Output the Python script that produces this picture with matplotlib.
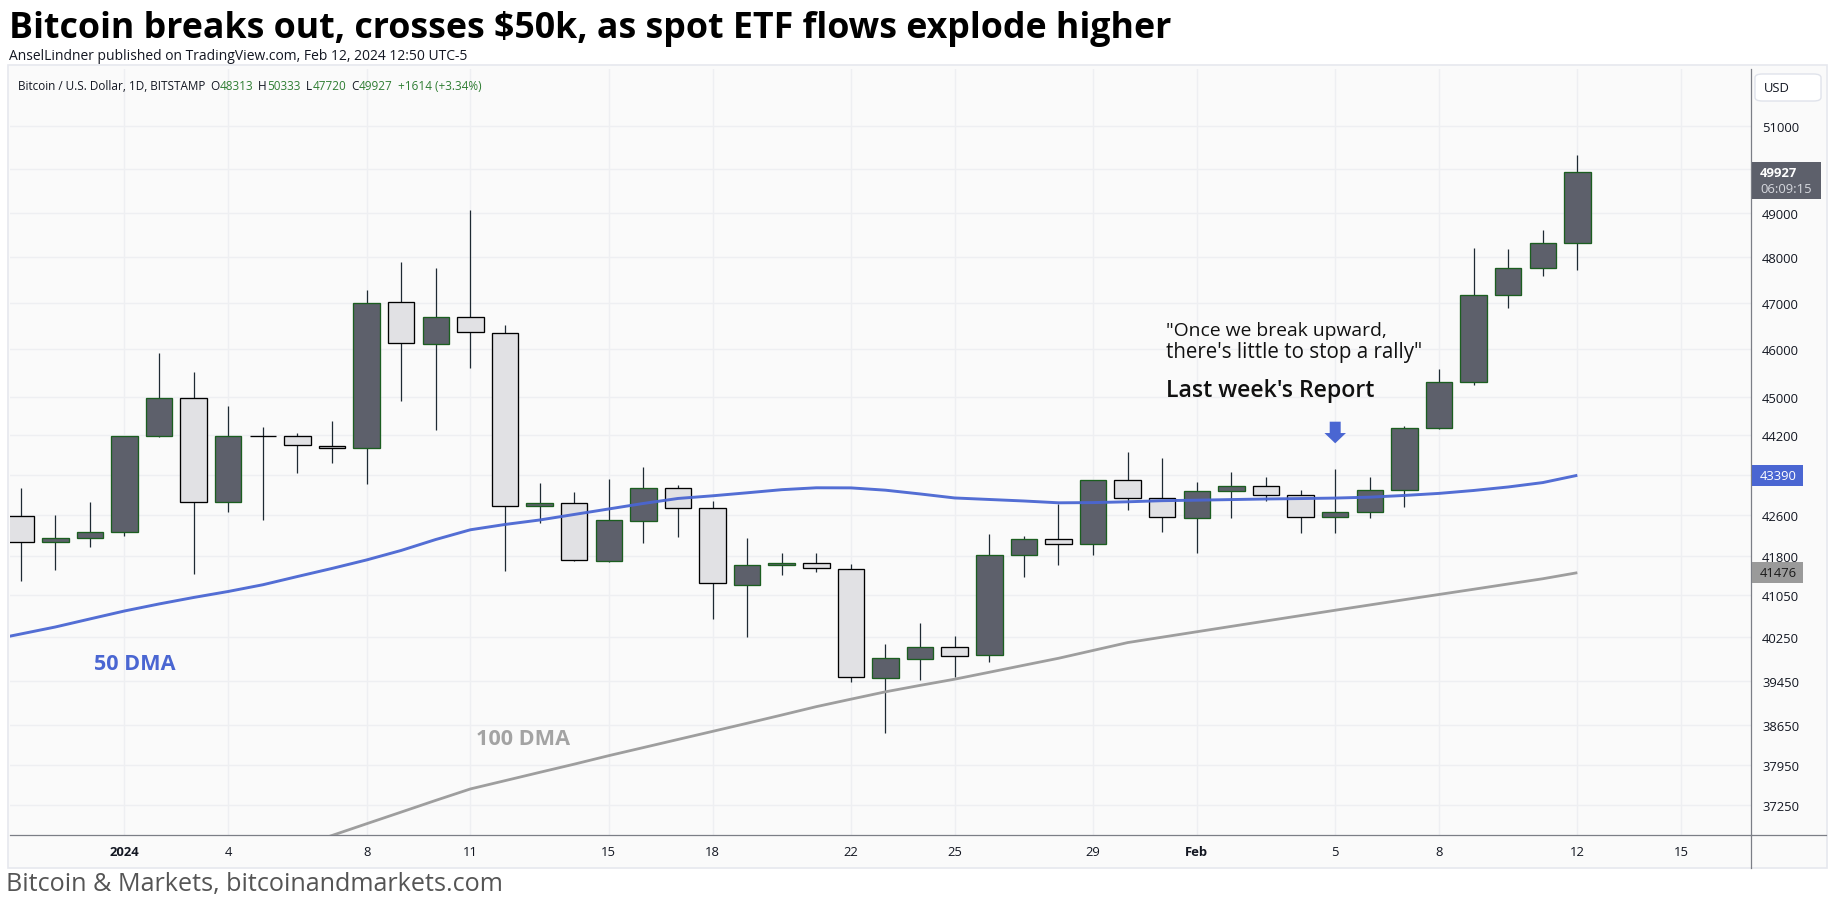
import numpy as np
import pandas as pd
import matplotlib
matplotlib.use('Agg')
import matplotlib.pyplot as plt
from matplotlib.patches import Rectangle, FancyBboxPatch
from matplotlib.lines import Line2D
from matplotlib.transforms import IdentityTransform
from matplotlib.ticker import FixedLocator, NullLocator, NullFormatter

plt.rcParams['font.family'] = ['Open Sans', 'DejaVu Sans']

# ---------------- data ----------------
dates = pd.date_range('2023-12-29', '2024-02-12', freq='D')

opens = [42580, 42065, 42143, 42260, 44182, 44966, 42851, 44182, 44182, 43977,
         43937, 47011, 46104, 46685, 46340, 42772, 42832, 41696, 42490, 43130,
         42732, 41235, 41619, 41658, 41542, 39497, 39846, 40068, 39920, 41812,
         42123, 42026, 43290, 42930, 42535, 43070, 43170, 42990, 42555, 42654,
         43090, 44346, 45301, 47163, 47757, 48313]
highs = [43135, 42600, 42857, 44190, 45919, 45517, 44806, 44372, 44243, 44495,
         47279, 47896, 47763, 49064, 46519, 43236, 43056, 43316, 43558, 43190,
         42877, 42143, 41851, 41858, 41643, 40129, 40522, 40278, 42227, 42186,
         42818, 43300, 43861, 43740, 43256, 43457, 43350, 43097, 43518, 43350,
         44400, 45581, 48208, 48185, 48610, 50333]
lows = [41310, 41534, 41979, 42193, 44170, 41457, 42665, 42507, 43443, 43644,
        43222, 44917, 44317, 45608, 41515, 42448, 41700, 41690, 42057, 42174,
        40602, 40265, 41438, 41496, 39435, 38514, 39471, 39521, 39801, 41400,
        41631, 41812, 42705, 42272, 41863, 42547, 42883, 42252, 42252, 42535,
        42764, 44330, 45244, 46893, 47593, 47720]
closes = [42070, 42143, 42260, 44182, 44966, 42851, 44182, 44180, 43998, 43937,
          46989, 46126, 46685, 46362, 42772, 42832, 41716, 42496, 43130, 42732,
          41274, 41619, 41658, 41561, 39515, 39864, 40068, 39901, 41812, 42123,
          42026, 43290, 42930, 42555, 43070, 43170, 42990, 42555, 42654, 43090,
          44346, 45301, 47163, 47757, 48313, 49927]

# moving averages, one value per day starting the day before the first visible candle
ma_dates = pd.date_range('2023-12-28', '2024-02-12', freq='D')
dma50 = [40185,
         40315, 40446, 40597, 40747, 40880, 41003, 41117, 41245, 41403, 41558,
         41722, 41906, 42119, 42309, 42413, 42501, 42610, 42719, 42828, 42927,
         42980, 43040, 43102, 43140, 43138, 43092, 43017, 42937, 42907, 42877,
         42841, 42845, 42861, 42883, 42893, 42905, 42917, 42925, 42935, 42953,
         42987, 43028, 43086, 43156, 43244, 43390]
dma100 = [np.nan] * 9 + [
         36524, 36723, 36923, 37123, 37325, 37523, 37667, 37812, 37956, 38106,
         38249, 38393, 38537, 38682, 38830, 38981, 39116, 39250, 39367, 39480,
         39607, 39736, 39864, 40009, 40155, 40256, 40357, 40458, 40559, 40660,
         40761, 40861, 40961, 41060, 41159, 41260, 41360, 41476]

price_ticks = [37250, 37950, 38650, 39450, 40250, 41050, 41800, 42600, 43400,
               44200, 45000, 46000, 47000, 48000, 49000, 50000, 51000]
price_tick_labels = ['37250', '37950', '38650', '39450', '40250', '41050', '41800',
                     '42600', '', '44200', '45000', '46000', '47000', '48000',
                     '49000', '', '51000']
time_tick_dates = ['2024-01-01', '2024-01-04', '2024-01-08', '2024-01-11',
                   '2024-01-15', '2024-01-18', '2024-01-22', '2024-01-25',
                   '2024-01-29', '2024-02-01', '2024-02-05', '2024-02-08',
                   '2024-02-12', '2024-02-15']
time_tick_labels = ['2024', '4', '8', '11', '15', '18', '22', '25', '29', 'Feb',
                    '5', '8', '12', '15']
bold_time_labels = ['2024', 'Feb']

title = 'Bitcoin breaks out, crosses $50k, as spot ETF flows explode higher'
subtitle = 'AnselLindner published on TradingView.com, Feb 12, 2024 12:50 UTC-5'
symbol_text = 'Bitcoin / U.S. Dollar, 1D, BITSTAMP'
ohlc_parts = [('O', '48313'), ('H', '50333'), ('L', '47720'), ('C', '49927')]
change_text = '+1614 (+3.34%)'
countdown = '06:09:15'
footer = 'Bitcoin & Markets, bitcoinandmarkets.com'
quote_lines = ['"Once we break upward,', 'there\'s little to stop a rally"']
report_label = "Last week's Report"
arrow_date = '2024-02-05'

# ---------------- styles ----------------
W, H = 1835, 903
BG = '#fafafa'
UP_FILL, UP_EDGE = '#5d606b', '#1b5e20'
DN_FILL, DN_EDGE = '#e1e1e4', '#000000'
WICK = '#1e2a33'
BLUE = '#4a66d2'
GREY = '#9e9e9e'
AXLINE = '#7b7e86'
TXT = '#131722'
GREEN = '#2e7d32'

fig = plt.figure(figsize=(W / 100, H / 100), dpi=100)
fig.patch.set_facecolor('white')


def fx(px):
    return px / W


def fy(py):
    return 1 - py / H


# widget panel
fig.add_artist(Rectangle((fx(8), fy(869)), fx(1827) - fx(8), fy(66) - fy(869),
                         transform=fig.transFigure, facecolor=BG,
                         edgecolor='#e6e8ee', lw=1.2, zorder=0))

ax = fig.add_axes([fx(10), fy(836), fx(1751) - fx(10), fy(70) - fy(836)])
ax.set_facecolor(BG)
ax.set_yscale('log')
ax.set_ylim(36731, 52375)
ax.set_xlim(-0.309, 50.02)

x = np.asarray((dates - dates[0]).days, dtype=float)
xm = np.asarray((ma_dates - dates[0]).days, dtype=float)
o = np.array(opens, float)
h = np.array(highs, float)
l = np.array(lows, float)
c = np.array(closes, float)
up = c > o

# grid / ticks
ax.yaxis.set_major_locator(FixedLocator(price_ticks))
ax.yaxis.set_minor_locator(NullLocator())
ax.yaxis.set_minor_formatter(NullFormatter())
ax.set_yticks(price_ticks)
ax.set_yticklabels(price_tick_labels)
ax.yaxis.tick_right()
tx = np.asarray((pd.to_datetime(time_tick_dates) - dates[0]).days, dtype=float)
ax.set_xticks(tx)
ax.set_xticklabels(time_tick_labels)
for lab in ax.get_xticklabels():
    if lab.get_text() in bold_time_labels:
        lab.set_fontweight('bold')
ax.tick_params(axis='y', length=0, pad=8, labelsize=9.4, labelcolor=TXT)
ax.tick_params(axis='x', length=0, pad=7.5, labelsize=9.4, labelcolor=TXT)
ax.grid(True, color='#eeeff2', lw=1.0, zorder=0)
ax.set_axisbelow(True)
for s in ['top', 'left']:
    ax.spines[s].set_visible(False)
for s in ['right', 'bottom']:
    ax.spines[s].set_color(AXLINE)
    ax.spines[s].set_linewidth(0.9)

# candles
ax.vlines(x, l, h, color=WICK, lw=0.9, zorder=2)
bottom = np.minimum(o, c)
height = np.maximum(np.abs(c - o), 1.0)
ax.bar(x, height, bottom=bottom, width=0.766,
       color=np.where(up, UP_FILL, DN_FILL),
       edgecolor=np.where(up, UP_EDGE, DN_EDGE), lw=0.95, zorder=3)

# moving averages
ax.plot(xm, dma100, color=GREY, lw=2.0, zorder=4, solid_capstyle='butt')
ax.plot(xm, dma50, color=BLUE, lw=2.1, zorder=4, alpha=0.95, solid_capstyle='butt')

# arrow above the Feb 5 candle
ax_arrow_x = float((pd.Timestamp(arrow_date) - dates[0]).days)
ax.annotate('', xy=(ax_arrow_x, 44038), xytext=(ax_arrow_x, 44481),
            arrowprops=dict(arrowstyle='simple,head_length=7.4,head_width=15.5,tail_width=7.9',
                            mutation_scale=1, color=BLUE, shrinkA=0, shrinkB=0, lw=0),
            zorder=5)

fig.canvas.draw()
R = fig.canvas.get_renderer()


def fit(t, width):
    bb = t.get_window_extent(renderer=R)
    t.set_fontsize(t.get_fontsize() * width / bb.width)
    return t


def ftext(px, py, s, width=None, **kw):
    t = fig.text(fx(px), fy(py), s, **kw)
    if width is not None:
        fit(t, width)
    return t


# titles
ftext(9, 29, title, width=1158, fontsize=22, fontweight='bold', color='black', va='center')
ftext(9, 56, subtitle, width=459, fontsize=8, color=TXT, va='center')
ftext(6, 885, footer, width=497, fontsize=16, color='#555555', va='center')

# legend line
t0 = ftext(17.5, 86, symbol_text, width=189, fontsize=8, color=TXT, va='center')
fsz = t0.get_fontsize()
cur = t0.get_window_extent(renderer=R).x1 + 5
for k, v in ohlc_parts:
    tk = fig.text(cur / W, fy(86), k, fontsize=fsz, color=TXT, va='center')
    cur = tk.get_window_extent(renderer=R).x1 + 0.5
    tv = fig.text(cur / W, fy(86), v, fontsize=fsz, color=GREEN, va='center')
    cur = tv.get_window_extent(renderer=R).x1 + 5
fig.text(cur / W, fy(86), change_text, fontsize=fsz, color=GREEN, va='center')

# annotations on chart
ftext(1165.6, 331, quote_lines[0], width=219, fontsize=12, color='#111111', va='center')
ftext(1165.6, 353, quote_lines[1], width=255, fontsize=12, color='#111111', va='center')
ftext(1165.6, 391, report_label, width=211, fontsize=14, fontweight='semibold', color='#111111', va='center')
ftext(94, 665, '50 DMA', width=82, fontsize=14, fontweight='bold', color=BLUE, va='center')
ftext(476, 740, '100 DMA', width=95, fontsize=14, fontweight='bold', color='#a3a3a3', va='center')

# axis separator lines extended into the scale areas
fig.add_artist(Line2D([fx(1751), fx(1751)], [fy(836), fy(869)], color=AXLINE, lw=0.9,
                      transform=fig.transFigure))
fig.add_artist(Line2D([fx(1751), fx(1826)], [fy(836), fy(836)], color=AXLINE, lw=0.9,
                      transform=fig.transFigure))

# USD box
fig.add_artist(FancyBboxPatch((fx(1755), fy(102)), fx(1821) - fx(1755), fy(75) - fy(102),
                              boxstyle='round,pad=0,rounding_size=0.004',
                              transform=fig.transFigure, facecolor='white',
                              edgecolor='#e0e3eb', lw=1.0))
ftext(1764, 88.5, 'USD', fontsize=9.4, color=TXT, va='center')


# price badges
def badge(price, lines, fc, tc, width, above, below, bold_first=True, sub_color=None):
    ypx = ax.transData.transform((0, price))[1]
    fig.add_artist(Rectangle((1751.5, ypx - below), width, above + below,
                             transform=IdentityTransform(), facecolor=fc,
                             edgecolor='none', zorder=6))
    fig.text(1760, ypx, lines[0], transform=IdentityTransform(), fontsize=9.4,
             fontweight='bold' if bold_first else 'normal', color=tc,
             va='center', ha='left', zorder=7)
    if len(lines) > 1:
        fig.text(1760, ypx - 16, lines[1], transform=IdentityTransform(), fontsize=9.4,
                 color=sub_color or tc, va='center', ha='left', zorder=7)


badge(closes[-1], [str(closes[-1]), countdown], '#5d606b', 'white', 69.5, 10, 26.7,
      sub_color='#d6d8de')
badge(dma50[-1], [str(dma50[-1])], BLUE, 'white', 51.8, 10.3, 10.3, bold_first=False)
badge(dma100[-1], [str(dma100[-1])], '#9a9a9a', '#1a1a1a', 51.8, 10.3, 10.3, bold_first=False)

fig.savefig('out.png', dpi=100, facecolor='white')
